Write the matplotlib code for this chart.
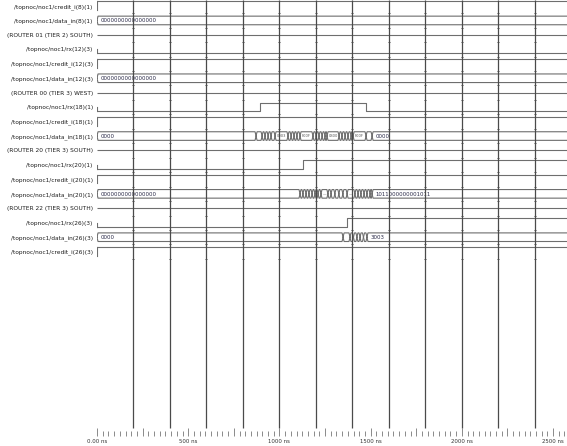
import numpy as np
import matplotlib
matplotlib.use("Agg")
import matplotlib.pyplot as plt
from matplotlib.ticker import MultipleLocator

# ---------------- data ----------------
signal_names = [
    "/topnoc/noc1/credit_i(8)(1)",
    "/topnoc/noc1/data_in(8)(1)",
    "(ROUTER 01 (TIER 2) SOUTH)",
    "/topnoc/noc1/rx(12)(3)",
    "/topnoc/noc1/credit_i(12)(3)",
    "/topnoc/noc1/data_in(12)(3)",
    "(ROUTER 00 (TIER 3) WEST)",
    "/topnoc/noc1/rx(18)(1)",
    "/topnoc/noc1/credit_i(18)(1)",
    "/topnoc/noc1/data_in(18)(1)",
    "(ROUTER 20 (TIER 3) SOUTH)",
    "/topnoc/noc1/rx(20)(1)",
    "/topnoc/noc1/credit_i(20)(1)",
    "/topnoc/noc1/data_in(20)(1)",
    "(ROUTER 22 (TIER 3) SOUTH)",
    "/topnoc/noc1/rx(26)(3)",
    "/topnoc/noc1/data_in(26)(3)",
    "/topnoc/noc1/credit_i(26)(3)",
]
signal_kinds = ["bit", "bus", "div", "bit", "bit", "bus", "div", "bit", "bit",
                "bus", "div", "bit", "bit", "bus", "div", "bit", "bus", "bit"]

# bit signals: initial value and toggle times (ns)
bit_init = {0: 1, 3: 0, 4: 1, 7: 0, 8: 1, 11: 0, 12: 1, 15: 0, 17: 1}
bit_edges = {0: [], 3: [], 4: [], 7: [892, 1475], 8: [], 11: [1129], 12: [], 15: [1369], 17: []}

# bus signals: segment start times (ns) and values
bus_times = {
    1: [0],
    5: [0],
    9: [0, 872, 905, 921, 938, 954, 976, 1047, 1064, 1080, 1096, 1113, 1184, 1201,
        1217, 1234, 1250, 1261, 1327, 1343, 1360, 1376, 1393, 1404, 1475, 1508],
    13: [0, 1113, 1129, 1146, 1162, 1179, 1195, 1212, 1228, 1266, 1283, 1304, 1326,
         1348, 1371, 1414, 1431, 1447, 1464, 1480, 1497, 1508],
    16: [0, 1349, 1387, 1406, 1425, 1442, 1461, 1480],
}
bus_values = {
    1: ["0000000000000000"],
    5: ["0000000000000000"],
    9: ["0000", "", "", "", "", "", "0003", "", "", "", "", "F00F", "", "",
        "", "", "", "0300", "", "", "", "", "", "F00F", "", "0000"],
    13: ["0000000000000000", "", "", "", "", "", "", "", "\u2014", "", "", "", "",
         "", "\u2014", "", "", "", "", "", "", "1011000000001011"],
    16: ["0000", "", "", "", "", "", "", "3003"],
}

time_ticks = [0, 500, 1000, 1500, 2000, 2500]
time_labels = ["0.00 ns", "500 ns", "1000 ns", "1500 ns", "2000 ns", "2500 ns"]

# ---------------- figure ----------------
W, H = 567, 446
fig = plt.figure(figsize=(W / 100, H / 100), dpi=100)
ax = fig.add_axes([97 / W, 10 / H, 470 / W, 436 / H])
PX_PER_NS = 0.1824
PITCH = 14.45
XMAX = 470 / PX_PER_NS
ax.set_xlim(0, XMAX)
ax.set_ylim((436 - 6) / PITCH, -6 / PITCH)

HI = -4.5 / PITCH
LO = 4.0 / PITCH
BT, BB = -4.3 / PITCH, 4.3 / PITCH
D = 1.0 / PX_PER_NS   # transition slant width
WAVE = "#6e6e6e"
LW = 0.8

for r, kind in enumerate(signal_kinds):
    if kind == "div":
        ax.plot([0, XMAX], [r, r], color=WAVE, lw=LW, solid_capstyle="butt")
    elif kind == "bit":
        v = bit_init[r]
        lvl = lambda val: r + (HI if val else LO)
        if v:
            ax.plot([0, 0], [r + LO, r + HI], color=WAVE, lw=LW)
        else:
            ax.plot([0, 0], [r, r + LO], color=WAVE, lw=LW)
        xs, ys = [0], [lvl(v)]
        for t in bit_edges[r]:
            xs += [t, t]
            ys += [lvl(v), lvl(1 - v)]
            v = 1 - v
        xs.append(XMAX)
        ys.append(lvl(v))
        ax.plot(xs, ys, color=WAVE, lw=LW)
    else:
        ts = bus_times[r] + [XMAX + 50]
        vals = bus_values[r]
        for i, val in enumerate(vals):
            a, b = ts[i], ts[i + 1]
            d = min(D, (b - a) / 3.0)
            px = [a, a + d, b - d, b, b - d, a + d, a]
            py = [r, r + BT, r + BT, r, r + BB, r + BB, r]
            ax.plot(px, py, color=WAVE, lw=LW, solid_joinstyle="miter")
            if val:
                if i == len(vals) - 1 or i == 0:
                    ax.text(a + 3.5 / PX_PER_NS, r + 0.03, val, fontsize=3.9,
                            color="#2a2a48", va="center", ha="left", clip_on=True)
                else:
                    ax.text((a + b) / 2, r + 0.03, val, fontsize=2.6,
                            color="#555555", va="center", ha="center", clip_on=True)

# vertical grid lines with small row marks
grid_x = np.arange(200, XMAX, 200)
ax.vlines(grid_x, -6 / PITCH, (428 - 6) / PITCH, color="#4a4a4a", lw=0.9, zorder=3)
for gx in grid_x:
    ax.plot([gx] * 18, np.arange(18) + 0.5, ls="none", marker="_", ms=1.6,
            mew=0.7, color="#4a4a4a", zorder=3)

# axes / ticks
for s in ax.spines.values():
    s.set_visible(False)
ax.set_yticks(range(len(signal_names)))
ax.set_yticklabels(signal_names, fontsize=4.2, color="#1e1e1e")
ax.tick_params(axis="y", length=0, pad=3)

major = np.arange(0, XMAX, 250)
ax.set_xticks(major)
ax.xaxis.set_minor_locator(MultipleLocator(31.25))
ax.set_xticklabels([time_labels[time_ticks.index(int(m))] if int(m) in time_ticks else ""
                    for m in major], fontsize=3.9, color="#333333")
ax.tick_params(axis="x", which="major", direction="in", length=6, width=0.6,
               color="#777777", pad=2)
ax.tick_params(axis="x", which="minor", direction="in", length=3.5, width=0.6,
               color="#777777")

fig.savefig("out.png", dpi=100, facecolor="white")
